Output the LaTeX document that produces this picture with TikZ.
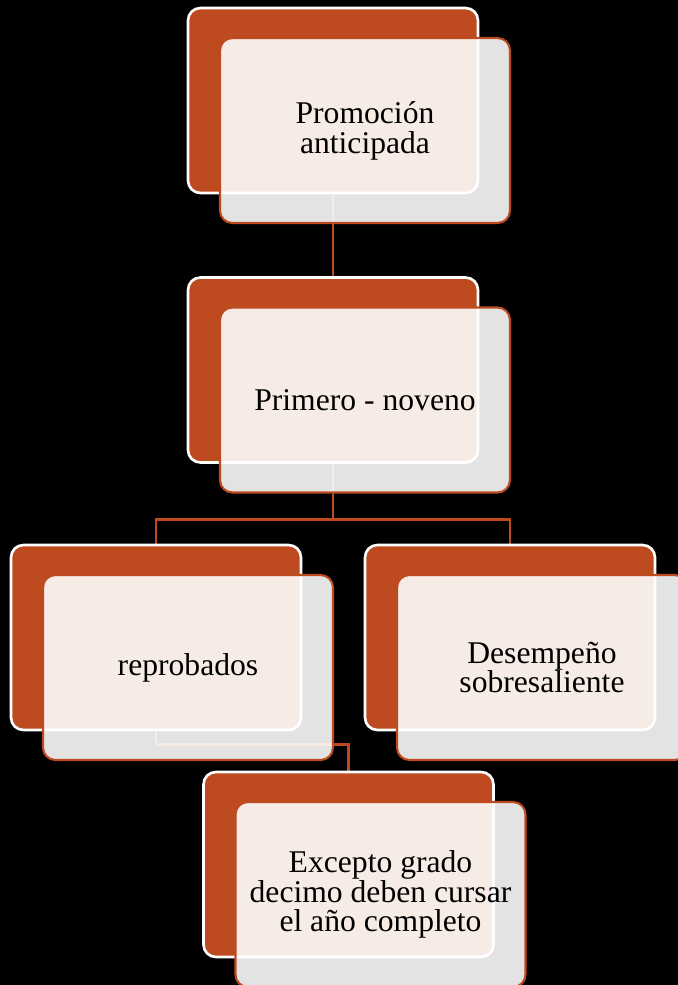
\documentclass[tikz,border=0pt]{standalone}
\usepackage{fontspec}
\setmainfont{Liberation Serif}
\usetikzlibrary{positioning}
\definecolor{teja}{HTML}{BE4B20}
\pgfdeclarelayer{fondo}
\pgfdeclarelayer{lineas}
\pgfsetlayers{fondo,lineas,main}

\begin{document}
\begin{tikzpicture}[x=0.02cm, y=-0.02cm,
    atras/.style={draw=white, line width=1.5pt, fill=teja, rounded corners=7pt,
      minimum width=5.8cm, minimum height=3.7cm, inner sep=0pt},
    frente/.style={draw=teja, line width=1.2pt, fill=white, fill opacity=0.89, text opacity=1,
      rounded corners=7pt, minimum width=5.8cm, minimum height=3.7cm, inner sep=0pt,
      align=center, font=\fontsize{18}{17}\selectfont},
    enlace/.style={draw=teja, line width=1.5pt}]
  \useasboundingbox (0,0) rectangle (678,985);
  \begin{pgfonlayer}{fondo}
    \fill[black] (0,0) rectangle (678,985);
  \end{pgfonlayer}

  % cajas de fondo
  \node[atras] (b1) at (333,100.5) {};
  \node[atras] (b2) at (333,370) {};
  \node[atras] (b3) at (156,637.5) {};
  \node[atras] (b4) at (510,637.5) {};
  \node[atras] (b5) at (348.5,864.5) {};

  % cajas de texto
  \node[frente] (f1) at ([shift={(32,30)}]b1) {Promoción\\anticipada};
  \node[frente] (f2) at ([shift={(32,30)}]b2) {Primero - noveno};
  \node[frente] (f3) at ([shift={(32,30)}]b3) {reprobados};
  \node[frente] (f4) at ([shift={(32,30)}]b4) {Desempeño\\sobresaliente};
  \node[frente] (f5) at ([shift={(32,30)}]b5) {Excepto grado\\decimo deben cursar\\el año completo};

  \begin{pgfonlayer}{lineas}
    \draw[enlace] (b1.south) -- (b2.north);
    \draw[enlace] (b2.south) -- ++(0,56) coordinate (j2) -| (b3.north);
    \draw[enlace] (j2) -| (b4.north);
    \draw[enlace] (b3.south) -- ++(0,13) -| (b5.north);
  \end{pgfonlayer}
\end{tikzpicture}
\end{document}
